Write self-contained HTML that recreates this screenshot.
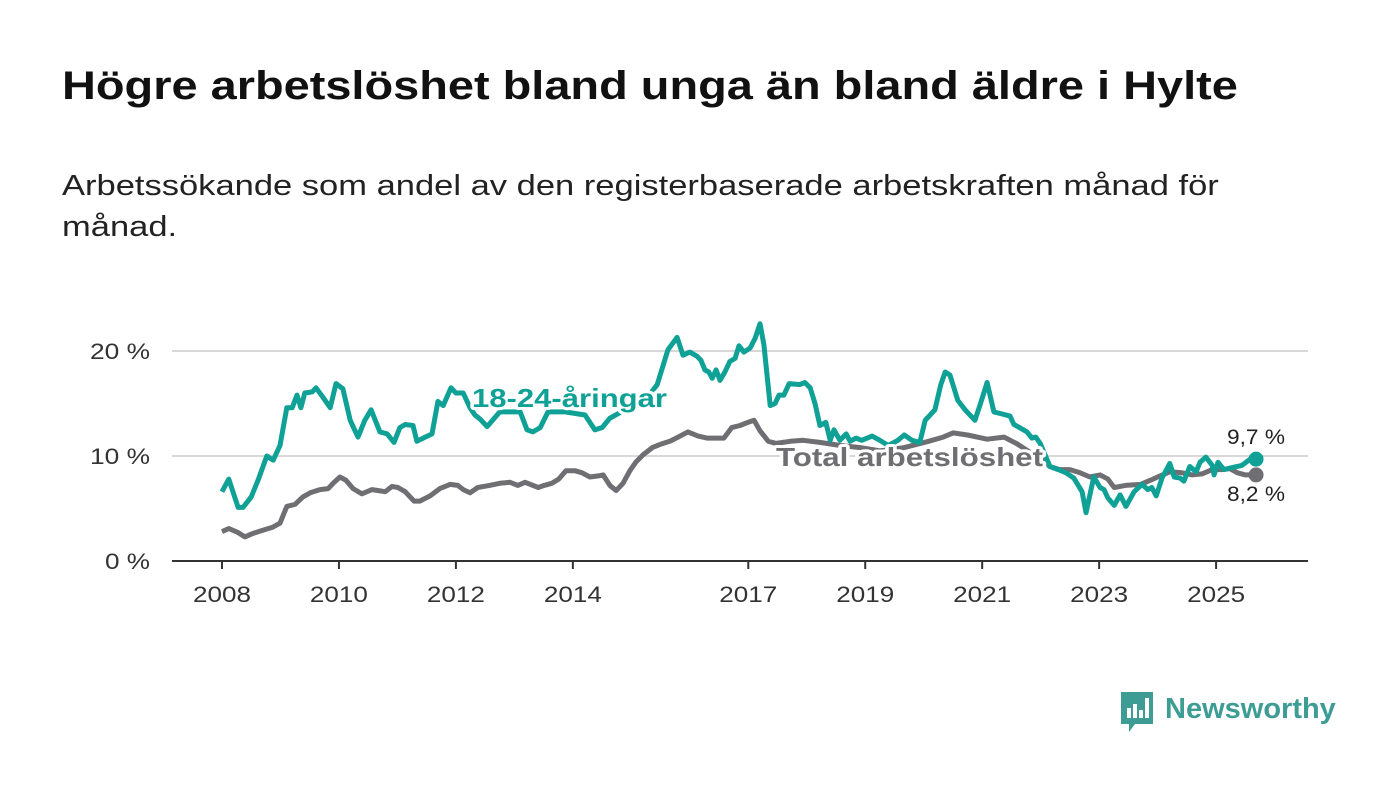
<!DOCTYPE html>
<html><head><meta charset="utf-8"><style>
body{margin:0;background:#fff;width:1400px;height:794px;overflow:hidden;font-family:"Liberation Sans",sans-serif}
h1{position:absolute;left:62px;top:64px;margin:0;font-size:40px;font-weight:bold;color:#111;transform:scaleX(1.173);transform-origin:left top;white-space:nowrap}
p{position:absolute;left:62px;top:166px;margin:0;font-size:29px;line-height:41px;color:#222;transform:scaleX(1.19);transform-origin:left top;white-space:nowrap}
</style></head><body>
<h1>Högre arbetslöshet bland unga än bland äldre i Hylte</h1>
<p>Arbetssökande som andel av den registerbaserade arbetskraften månad för<br>månad.</p>
<svg id="c" width="1400" height="794" style="position:absolute;left:0;top:0"></svg>
<script>
const yTicks=[0,10,20];
const yTickLabels=["0 %","10 %","20 %"];
const xTickYears=[2008,2010,2012,2014,2017,2019,2021,2023,2025];
const youthMonths=[0,1.4,3.3,4.3,6,7.4,9.2,10.5,11.9,13.3,14.4,15.4,16.2,17,18.5,19.3,20.7,22.2,23.4,24.8,26.3,27.9,29.3,30.6,32.4,33.9,35.3,36.5,37.6,39.2,40,41.7,43.1,44.3,45.4,47,48,49.5,50.9,51.9,53,54.4,57,61.2,62.6,63.8,65.3,66.9,70.4,74.5,76.5,78,79.6,82.7,86.8,89.3,91.5,93.4,94.6,96,97.5,98.3,99.1,99.9,100.6,101.4,102.2,103.2,104.2,105.3,106.1,107.1,108.4,109.4,110.4,111.2,112.5,113.5,114.3,115.3,116.4,118.6,119.6,120.7,121.7,122.7,123.9,124.8,125.6,126.8,128.1,128.9,130.1,131.3,133.4,135,136.7,138.7,140,141.6,143.2,144.3,146.3,147.5,148.4,149.4,151,152.5,154.5,155.6,157,158.4,160.1,161.7,162.5,163.3,165.2,166.2,167,167.9,169.9,171.6,173.2,174.8,176.5,177.3,178.9,180.2,181,181.8,183.1,184.3,185.5,187.2,188.8,190,190.8,191.7,192.9,194.5,195.4,196.6,197.4,198.6,199.9,200.7,201.9,203.2,203.6,204.4,205.6,207.3,209.3,211,212.2];
const youthValues=[6.6,7.8,5.1,5.1,6.1,7.7,10,9.6,11,14.6,14.6,15.8,14.6,16,16.1,16.5,15.6,14.6,16.9,16.4,13.4,11.8,13.4,14.4,12.3,12.1,11.3,12.7,13,12.9,11.4,11.8,12.1,15.2,14.8,16.5,16,16,14.6,13.9,13.5,12.8,14.2,14.2,12.5,12.3,12.7,14.2,14.2,13.9,12.5,12.7,13.6,14.4,15.3,16.8,20.1,21.3,19.6,19.9,19.5,19.1,18.2,18,17.4,18.2,17.2,18,19,19.3,20.5,19.9,20.3,21.2,22.6,20.6,14.8,15,15.8,15.8,16.9,16.8,17,16.5,15,12.9,13.2,11.5,12.5,11.5,12.1,11.4,11.7,11.5,11.9,11.5,11,11.5,12,11.5,11.3,13.4,14.4,16.8,18,17.7,15.3,14.4,13.4,14.9,17,14.2,14,13.8,13,12.8,12.3,11.7,11.8,11.2,9,8.7,8.4,7.9,6.6,4.6,8,7,6.8,6,5.3,6.3,5.2,6.6,7.3,6.8,7,6.2,7.9,9.3,8,7.9,7.6,9,8.5,9.4,9.9,9.1,8.2,9.4,8.7,8.9,9.1,9.7,9.7];
const totalMonths=[0,1.4,3.3,4.7,6.2,8.2,10.3,11.9,13.3,15,16.6,18.1,20.1,21.8,22.8,24.2,25.4,26.9,28.7,30.8,33.5,34.9,36.1,37.6,39.4,40.6,42.7,44.7,46.8,48.4,49.5,50.9,52.5,54.9,57,59.1,60.7,62.2,64.9,66.1,67.7,69.1,70.6,72.4,73.9,75.5,77.2,78.2,79.6,80.9,82.3,83.7,84.9,86.4,88.3,89.9,91.9,93.6,95.6,97.7,99.5,101.6,103,104.6,106.3,107.9,109.2,110.4,112.1,113.7,116.6,119.2,122.7,126.9,131,135,140,145,148,150,153,157,160.5,163,166,168,169.9,171.9,174,176.1,178.1,180.2,181.8,183.1,185.4,188.5,190.6,192.5,194.5,197,199.1,201.1,203.2,205.2,206.8,208.4,210,212.2];
const totalValues=[2.8,3.1,2.7,2.3,2.6,2.9,3.2,3.6,5.2,5.4,6.1,6.5,6.8,6.9,7.4,8,7.7,6.9,6.4,6.8,6.6,7.1,7,6.6,5.7,5.7,6.2,6.9,7.3,7.2,6.8,6.5,7,7.2,7.4,7.5,7.2,7.5,7,7.2,7.4,7.8,8.6,8.6,8.4,8,8.1,8.2,7.2,6.7,7.4,8.6,9.4,10.1,10.8,11.1,11.4,11.8,12.3,11.9,11.7,11.7,11.7,12.7,12.9,13.2,13.4,12.4,11.4,11.2,11.4,11.5,11.3,11,10.8,10.5,10.8,11.4,11.8,12.2,12,11.6,11.8,11.2,10.3,9.8,9,8.7,8.7,8.4,8,8.2,7.8,7,7.2,7.3,7.7,8.1,8.5,8.4,8.2,8.3,8.7,8.7,8.8,8.4,8.2,8.2];

const svg=document.getElementById('c');
const NS='http://www.w3.org/2000/svg';
const X=m=>222+m*4.873;
const Y=v=>561-v*10.5;
function mk(tag,attrs,txt){const e=document.createElementNS(NS,tag);for(const k in attrs)e.setAttribute(k,attrs[k]);if(txt!==undefined)e.textContent=txt;svg.appendChild(e);return e;}
yTicks.forEach((t,i)=>{
  if(t>0){const g=mk('line',{x1:172,x2:1308,y1:Y(t),y2:Y(t),stroke:'#d8d8d8','stroke-width':2});
  
  }
  const l=mk('text',{x:150,y:Y(t)+8,'text-anchor':'end','font-size':22,fill:'#333',textLength:yTickLabels[i].length*15,lengthAdjust:'spacingAndGlyphs'},yTickLabels[i]);
  
  
});
const ax=mk('line',{x1:172,x2:1308,y1:561,y2:561,stroke:'#333','stroke-width':2});


xTickYears.forEach(yr=>{
  const x=X((yr-2008)*12);
  const t=mk('line',{x1:x,x2:x,y1:561,y2:569,stroke:'#333','stroke-width':2});
  
  
  const l=mk('text',{x:x,y:602,'text-anchor':'middle','font-size':22,fill:'#333',textLength:58,lengthAdjust:'spacingAndGlyphs'},String(yr));
  
  
});
function line(ms,vs,col,name){
  const d=ms.map((m,i)=>(i?'L':'M')+X(m).toFixed(1)+','+Y(vs[i]).toFixed(1)).join('');
  const p=mk('path',{d:d,fill:'none',stroke:col,'stroke-width':5,'stroke-linejoin':'round'});
  
  
  const c=mk('circle',{cx:X(ms[ms.length-1]),cy:Y(vs[vs.length-1]),r:7.5,fill:col});
  
  
}
line(totalMonths,totalValues,'#6f6e72','total-line');
line(youthMonths,youthValues,'#0fa196','youth-line');
const halo={stroke:'#fff','stroke-width':6,'paint-order':'stroke','stroke-linejoin':'round','font-weight':'bold','font-size':26,lengthAdjust:'spacingAndGlyphs'};
const l1=mk('text',Object.assign({x:472,y:407,fill:'#0fa196',textLength:195},halo),'18-24-åringar');


const l2=mk('text',Object.assign({x:776,y:466,fill:'#6f6e72',textLength:267},halo),'Total arbetslöshet');


const e1=mk('text',{x:1227,y:444,'font-size':21,fill:'#222',stroke:'#fff','stroke-width':4,'paint-order':'stroke',textLength:58,lengthAdjust:'spacingAndGlyphs'},youthValues[youthValues.length-1].toFixed(1).replace('.',',')+' %');


const e2=mk('text',{x:1227,y:501,'font-size':21,fill:'#222',stroke:'#fff','stroke-width':4,'paint-order':'stroke',textLength:58,lengthAdjust:'spacingAndGlyphs'},totalValues[totalValues.length-1].toFixed(1).replace('.',',')+' %');


</script>
<div style="position:absolute;left:1119px;top:690px;height:44px;display:flex;align-items:flex-start">
<svg width="36" height="44"><path d="M2 2h32v32H16l-6 8v-8H2z" fill="#3d9c94"/><rect x="8" y="18" width="4" height="10" fill="#fff"/><rect x="14" y="14" width="4" height="14" fill="#fff"/><rect x="20" y="20" width="4" height="8" fill="#fff"/><rect x="26" y="8" width="4" height="20" fill="#fff"/></svg>
<span style="margin-left:10px;font-size:29px;font-weight:bold;color:#3d9c94;line-height:38px">Newsworthy</span></div>
</body></html>
